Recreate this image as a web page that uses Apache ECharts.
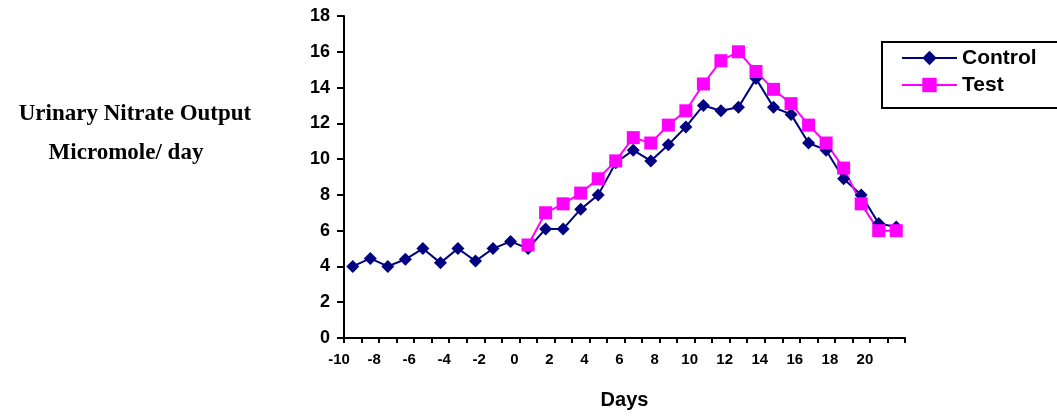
<!DOCTYPE html>
<html>
<head>
<meta charset="utf-8">
<script src="https://cdn.jsdelivr.net/npm/echarts@6/dist/echarts.min.js"></script>
<style>html,body{margin:0;padding:0;background:#fff;}#c{width:1057px;height:417px;}</style>
</head>
<body>
<div id="c"></div>
<script>
const controlDays = [-10,-9,-8,-7,-6,-5,-4,-3,-2,-1,0,1,2,3,4,5,6,7,8,9,10,11,12,13,14,15,16,17,18,19,20,21];
const controlValues = [4.0,4.45,4.0,4.4,5.0,4.2,5.0,4.3,5.0,5.4,5.0,6.1,6.1,7.2,8.0,9.8,10.5,9.9,10.8,11.8,13.0,12.7,12.9,14.5,12.9,12.5,10.9,10.5,8.9,8.0,6.4,6.2];
const testDays = [0,1,2,3,4,5,6,7,8,9,10,11,12,13,14,15,16,17,18,19,20,21];
const testValues = [5.2,7.0,7.5,8.1,8.9,9.9,11.2,10.9,11.9,12.7,14.2,15.5,16.0,14.9,13.9,13.1,11.9,10.9,9.5,7.5,6.0,6.0];
const xTickLabels = ['-10','-8','-6','-4','-2','0','2','4','6','8','10','12','14','16','18','20'];

const chart = echarts.init(document.getElementById('c'));
const ff = '"Liberation Sans", Arial, sans-serif';
const serif = '"Liberation Serif", "Times New Roman", serif';
chart.setOption({
  animation: false,
  grid: {left: 344, right: 152, top: 16, bottom: 79},
  legend: {
    orient: 'vertical', left: 882, top: 42,
    padding: [5, 45, 12, 19],
    itemGap: 5, itemWidth: 55, itemHeight: 18,
    borderColor: '#000', borderWidth: 2,
    textStyle: {fontFamily: ff, fontWeight: 'bold', fontSize: 21, lineHeight: 22, color: '#000'},
    data: ['Control', 'Test']
  },
  xAxis: {
    type: 'value', min: -10.5, max: 21.5, interval: 1,
    name: 'Days', nameLocation: 'middle', nameGap: 52,
    nameTextStyle: {fontFamily: ff, fontWeight: 'bold', fontSize: 20, color: '#000'},
    axisLine: {show: true, onZero: false, lineStyle: {color: '#000', width: 2}},
    axisTick: {show: true, length: 5, lineStyle: {color: '#000', width: 2}},
    splitLine: {show: false},
    axisLabel: {
      margin: 14, padding: [0, 10, 0, 0],
      fontFamily: ff, fontWeight: 'bold', fontSize: 15, color: '#000',
      showMaxLabel: true, showMinLabel: true,
      formatter: function (v) {
        const k = Math.round(v + 10.5);
        if (k % 2 !== 0) return '';
        return xTickLabels[k / 2] || '';
      }
    }
  },
  yAxis: {
    type: 'value', min: 0, max: 18, interval: 2,
    axisLine: {show: true, onZero: false, lineStyle: {color: '#000', width: 2}},
    axisTick: {show: true, length: 7, lineStyle: {color: '#000', width: 2}},
    splitLine: {show: false},
    axisLabel: {margin: 14, fontFamily: ff, fontWeight: 'bold', fontSize: 18, color: '#000'}
  },
  graphic: [
    {type: 'text', x: 135, y: 114, style: {text: 'Urinary Nitrate Output', textAlign: 'center', textVerticalAlign: 'middle', font: 'bold 23px ' + serif, fill: '#000'}},
    {type: 'text', x: 126, y: 153, style: {text: 'Micromole/ day', textAlign: 'center', textVerticalAlign: 'middle', font: 'bold 23px ' + serif, fill: '#000'}}
  ],
  series: [
    {
      name: 'Control', type: 'line',
      data: controlDays.map((d, i) => [d, controlValues[i]]),
      symbol: 'diamond', symbolSize: 13,
      lineStyle: {color: '#000080', width: 2},
      itemStyle: {color: '#000080'}
    },
    {
      name: 'Test', type: 'line',
      data: testDays.map((d, i) => [d, testValues[i]]),
      symbol: 'rect', symbolSize: 13,
      lineStyle: {color: '#FF00FF', width: 2},
      itemStyle: {color: '#FF00FF'}
    }
  ]
});
</script>
</body>
</html>
